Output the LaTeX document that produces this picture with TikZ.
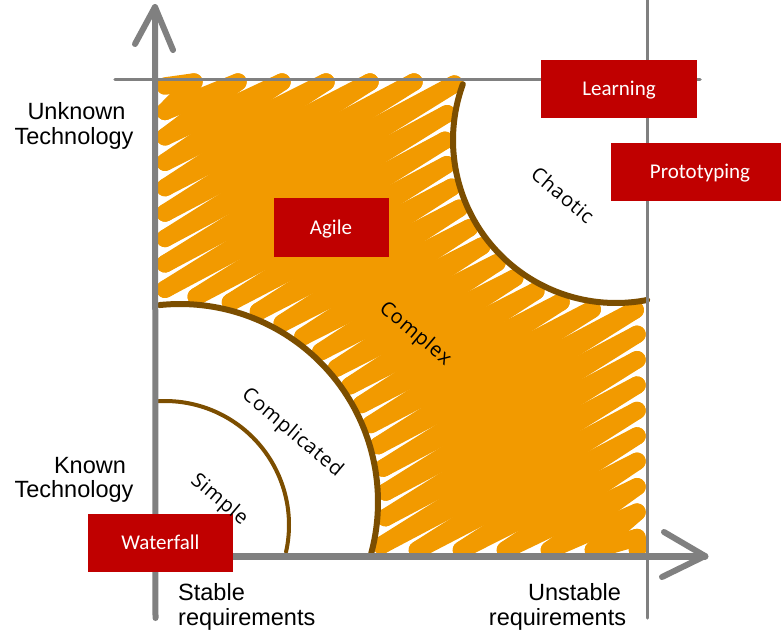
\documentclass[tikz,border=0pt]{standalone}
\usepackage{fontspec}
\setmainfont{Liberation Sans}
\newfontfamily\boxfont{Carlito}
\newfontfamily\handfont{Open Sans}[LetterSpace=4]

\definecolor{scribcol}{HTML}{F29A00}
\definecolor{axiscol}{HTML}{808080}
\definecolor{arccol}{HTML}{7C4E00}
\definecolor{boxred}{HTML}{C00000}

% vertex of the scribble zigzag on construction line #1:
% even lines give the lower-left end, odd lines the upper-right end
\def\cs{0.8660254}
\newcommand\zzpoint[1]{%
  \edef\zzc{\fpeval{157+(#1)*11}}%
  \ifodd#1\relax
    \edef\zzt{\fpeval{min((637-0.5*\zzc)/\cs, (\cs*\zzc-82)/0.5,
      (abs(\zzc-429.2436)<171 ? 463.4716-sqrt(max(0,171^2-(\zzc-429.2436)^2)) : 10000))}}%
  \else
    \edef\zzt{\fpeval{max((165-0.5*\zzc)/\cs, (\cs*\zzc-550)/0.5,
      (abs(\zzc-524.7448)<206 ? -95.1154+sqrt(max(0,206^2-(\zzc-524.7448)^2)) : -10000))}}%
  \fi
  \edef\zzx{\fpeval{round(0.5*\zzc+\cs*\zzt,2)}}%
  \edef\zzy{\fpeval{round(\cs*\zzc-0.5*\zzt,2)}}%
}

\tikzset{
  scribble/.style={draw=scribcol, line width=17.5pt, line cap=round},
  axisline/.style={draw=axiscol, line cap=round, line join=round},
  domainarc/.style={draw=arccol, line cap=round},
  method/.style={rectangle, fill=boxred, text=white, inner sep=0pt,
    font=\boxfont\fontsize{21}{24}\selectfont, text height=13pt, text depth=0pt,
    minimum height=58pt},
  axislabel/.style={inner sep=0pt, font=\fontsize{23.5}{26}\selectfont},
  domainlabel/.style={inner sep=0pt, rotate=-40, font=\handfont\fontsize{20}{22}\selectfont}
}

\begin{document}
\begin{tikzpicture}[x=1pt,y=-1pt]
\useasboundingbox (0,0) rectangle (781,632);

% hatched "complex" area between the two corner arcs
\foreach \k in {0,...,57} {
  \zzpoint{\k}\let\zax\zzx\let\zay\zzy
  \pgfmathtruncatemacro\zk{\k+1}%
  \zzpoint{\zk}%
  \draw[scribble] (\zax,\zay) -- (\zzx,\zzy);
}

% domain boundaries
\draw[domainarc, line width=4pt] plot[domain=-93:12.5, samples=60]
  ({165+124*cos(\x)}, {525+124*sin(\x)});
\draw[domainarc, line width=6pt] plot[domain=-96:15, samples=80]
  ({180+198*cos(\x)}, {502+198*sin(\x)});
\draw[domainarc, line width=6pt] plot[domain=200:79, samples=80]
  ({616+163*cos(\x)}, {140+163*sin(\x)});

% frame lines
\coordinate (topL) at (115,79.5);
\coordinate (topR) at (700,79.5);
\coordinate (rightT) at (647.5,0);
\coordinate (rightB) at (647.5,618);
\draw[axisline, line width=3.5pt] (topL) -- (topR);
\draw[axisline, line width=3pt] (rightT) -- (rightB);

% axes with open arrow heads
\coordinate (ybot) at (155.5,618);
\coordinate (ytip) at (155,7);
\coordinate (yarmL) at (135,44);
\coordinate (yarmR) at (173,50);
\draw[axisline, line width=6pt] (ybot) -- (ytip);
\draw[axisline, line width=6pt] (yarmL) -- (ytip) -- (yarmR);

\coordinate (xleft) at (100,556);
\coordinate (xtip) at (705,556);
\coordinate (xarmU) at (664,532);
\coordinate (xarmD) at (662,577);
\draw[axisline, line width=7pt] (xleft) -- (xtip);
\draw[axisline, line width=6pt] (xarmU) -- (xtip) -- (xarmD);

% approaches
\node[method, minimum width=156pt] (learning) at (619,89) {Learning};
\node[method, minimum width=178pt] (prototyping) at (700,172) {Prototyping};
\node[method, minimum width=115pt, minimum height=59pt] (agile) at (331,227.5) {Agile};
\node[method, minimum width=145pt] (waterfall) at (160.5,543) {Waterfall};

% domain names
\node[domainlabel] (chaotic) at (563,195) {Chaotic};
\node[domainlabel] (complex) at (415,334) {Complex};
\node[domainlabel] (complicated) at (292,433) {Complicated};
\node[domainlabel] (simple) at (219,500) {Simple};

% axis texts
\node[axislabel, anchor=base] (unk1) at (76.5,119) {Unknown};
\node[axislabel, anchor=base] (unk2) at (74,144) {Technology};
\node[axislabel, anchor=base] (kn1) at (90,473) {Known};
\node[axislabel, anchor=base] (kn2) at (74,497) {Technology};
\node[axislabel, anchor=base west] (st1) at (178,600) {Stable};
\node[axislabel, anchor=base west] (st2) at (178,625) {requirements};
\node[axislabel, anchor=base] (un1) at (574.5,600) {Unstable};
\node[axislabel, anchor=base] (un2) at (557.5,625) {requirements};
\end{tikzpicture}
\end{document}
